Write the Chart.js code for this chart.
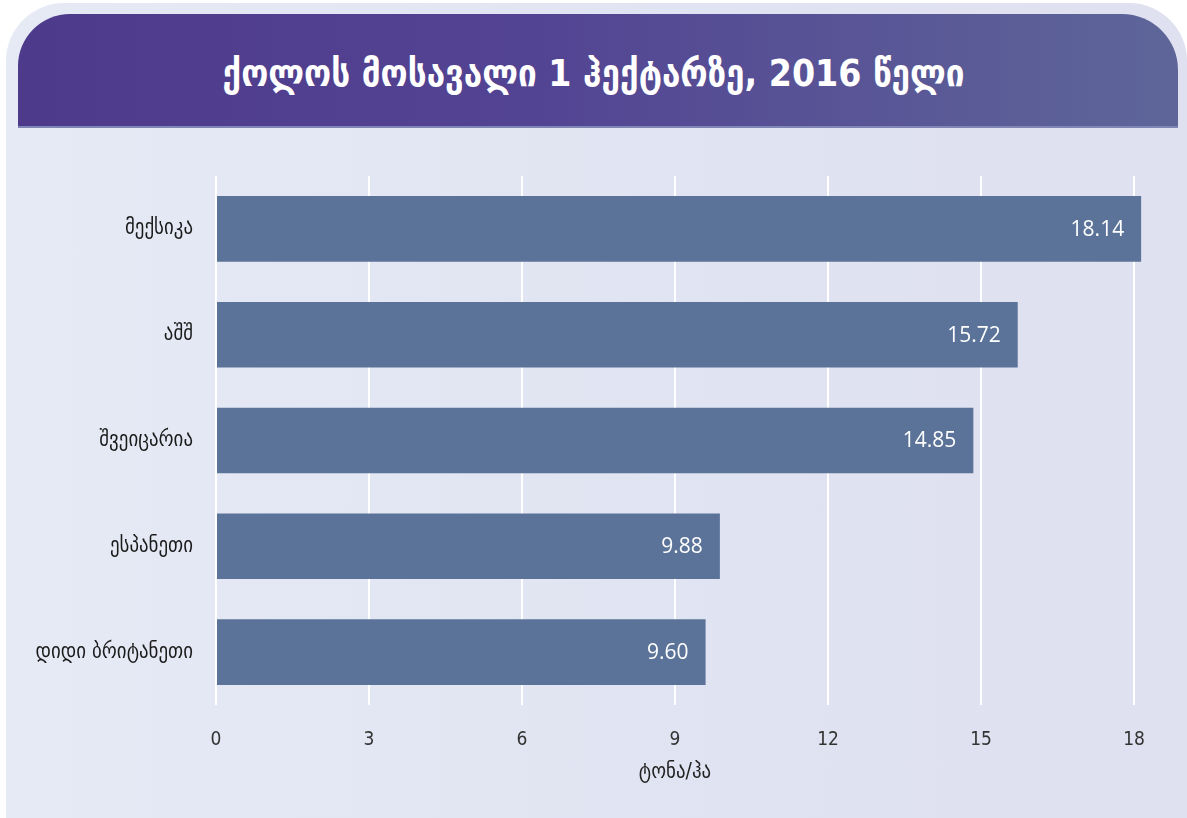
<!DOCTYPE html>
<html><head><meta charset="utf-8">
<script src="https://cdn.jsdelivr.net/npm/chart.js@4.4.0/dist/chart.umd.min.js"></script>
<style>
html,body{margin:0;padding:0;background:#fff;width:1187px;height:818px;overflow:hidden;}
#card{position:absolute;left:6px;top:3px;width:1181px;height:880px;border-radius:58px;
 background:linear-gradient(90deg,#e6eaf5 0%,#e0e3f1 60%,#dfe0f0 100%);}
#banner{position:absolute;left:18px;top:14px;width:1160px;height:114px;border-radius:52px 56px 0 0;
 background:linear-gradient(90deg,#4e3a8a 0%,#534493 45%,#5e6699 100%);border-bottom:2px solid #7f85b5;box-sizing:border-box;}
#title{position:absolute;left:0;top:18px;width:1187px;height:114px;line-height:112px;text-align:center;color:#fff;
 font-family:"DejaVu Sans Condensed","DejaVu Sans",sans-serif;font-weight:bold;font-size:37px;letter-spacing:0px;}
#wrap{position:absolute;left:0;top:128px;width:1187px;height:690px;}
</style></head>
<body>
<div id="card"></div>
<div id="banner"></div>
<div id="title">ქოლოს მოსავალი 1 ჰექტარზე, 2016 წელი</div>
<div id="wrap"><canvas id="c" width="1187" height="690"></canvas></div>
<script>
const categories = ["მექსიკა","აშშ","შვეიცარია","ესპანეთი","დიდი ბრიტანეთი"];
const yieldValues = [18.14, 15.72, 14.85, 9.88, 9.60];
const axisTitle = "ტონა/ჰა";

const valueLabels = {
  id:'valueLabels',
  afterDatasetsDraw(chart){
    const ctx = chart.ctx;
    const meta = chart.getDatasetMeta(0);
    ctx.save();
    ctx.font = '21px "Open Sans", sans-serif';
    ctx.fillStyle = '#ffffff';
    ctx.textAlign = 'right';
    ctx.textBaseline = 'middle';
    meta.data.forEach((bar,i)=>{
      ctx.fillText(yieldValues[i].toFixed(2), bar.x - 17, bar.y + 1);
    });
    ctx.restore();
  }
};

new Chart(document.getElementById('c'), {
  type:'bar',
  data:{labels:categories, datasets:[{data:yieldValues, backgroundColor:'#5b7399', borderWidth:0,
    barPercentage:0.62, categoryPercentage:1.0, clip:false}]},
  options:{
    indexAxis:'y', responsive:false, animation:false,
    layout:{padding:{top:48,right:53,bottom:33,left:0}},
    plugins:{legend:{display:false}, tooltip:{enabled:false}, title:{display:false}},
    scales:{
      x:{min:0,max:18,
        ticks:{stepSize:3,padding:24,color:'#333',font:{family:'"Liberation Sans Narrow","DejaVu Sans Condensed",sans-serif',size:19}},
        grid:{color:'#ffffff',lineWidth:2,drawTicks:false},
        border:{display:false},
        title:{display:true,text:axisTitle,color:'#222',padding:0,
          font:{family:'"DejaVu Sans Condensed","DejaVu Sans",sans-serif',size:21}},
        afterFit(s){ s.height = 80; }
      },
      y:{
        ticks:{padding:23,color:'#1a1a1a',font:{family:'"DejaVu Sans Condensed","DejaVu Sans",sans-serif',size:21}},
        grid:{display:false,drawTicks:false},
        border:{display:false},
        afterFit(s){ s.width = 216; }
      }
    }
  },
  plugins:[valueLabels]
});
</script>
</body></html>
